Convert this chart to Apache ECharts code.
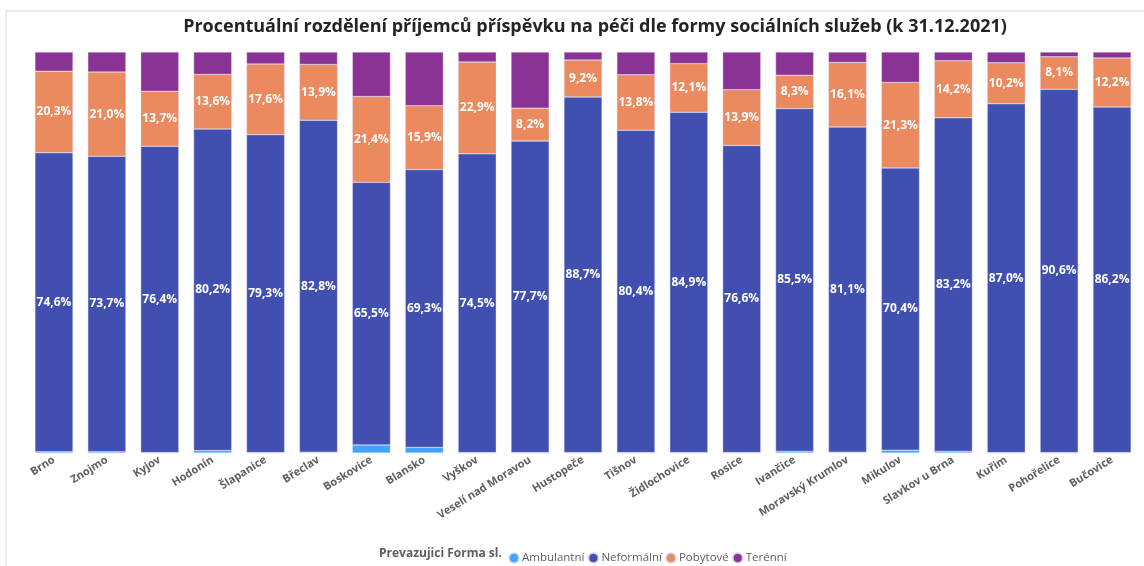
<!DOCTYPE html>
<html>
<head>
<meta charset="utf-8">
<script src="https://cdn.jsdelivr.net/npm/echarts@6/dist/echarts.min.js"></script>
<style>
  html, body { margin: 0; padding: 0; background: #fff; }
  #chart { width: 1144px; height: 566px; }
</style>
</head>
<body>
<div id="chart"></div>
<script>
// kategorie (obce s rozšířenou působností)
const categories = ['Brno', 'Znojmo', 'Kyjov', 'Hodonín', 'Šlapanice', 'Břeclav', 'Boskovice', 'Blansko',
  'Vyškov', 'Veselí nad Moravou', 'Hustopeče', 'Tišnov', 'Židlochovice', 'Rosice', 'Ivančice',
  'Moravský Krumlov', 'Mikulov', 'Slavkov u Brna', 'Kuřim', 'Pohořelice', 'Bučovice'];

// hodnoty v %
const ambulantni = [0.3, 0.3, 0.1, 0.6, 0.1, 0.2, 2.0, 1.4, 0.1, 0.1, 0.1, 0.1, 0.1, 0.1, 0.4, 0.2, 0.7, 0.4, 0.1, 0.1, 0.1];
const neformalni = [74.6, 73.7, 76.4, 80.2, 79.3, 82.8, 65.5, 69.3, 74.5, 77.7, 88.7, 80.4, 84.9, 76.6, 85.5, 81.1, 70.4, 83.2, 87.0, 90.6, 86.2];
const pobytove = [20.3, 21.0, 13.7, 13.6, 17.6, 13.9, 21.4, 15.9, 22.9, 8.2, 9.2, 13.8, 12.1, 13.9, 8.3, 16.1, 21.3, 14.2, 10.2, 8.1, 12.2];
const terenni = [4.8, 5.0, 9.8, 5.6, 3.0, 3.1, 11.1, 13.4, 2.5, 14.0, 2.0, 5.7, 2.9, 9.4, 5.8, 2.6, 7.6, 2.2, 2.7, 1.2, 1.5];

const chart = echarts.init(document.getElementById('chart'));

const fmt = (p) => p.value.toFixed(1).replace('.', ',') + '%';
const labelStyle = {
  show: true,
  formatter: fmt,
  color: '#fff',
  fontWeight: 'bold',
  fontSize: 12,
  fontFamily: 'Open Sans'
};

function serie(name, data, color, label) {
  return {
    name: name,
    type: 'bar',
    stack: 'total',
    data: data,
    barCategoryGap: '28%',
    itemStyle: { color: color, borderColor: 'rgba(220,220,245,0.8)', borderWidth: 0.5 },
    label: label ? labelStyle : { show: false }
  };
}

const option = {
  animation: false,
  title: {
    text: 'Procentuální rozdělení příjemců příspěvku na péči dle formy sociálních služeb (k 31.12.2021)',
    left: 590,
    textAlign: 'center',
    top: 13,
    textStyle: { fontFamily: 'Open Sans', fontSize: 18, fontWeight: 'bold', color: '#252423' }
  },
  graphic: [
    {
      type: 'polyline',
      shape: { points: [[6, 566], [6, 11], [1144, 11]] },
      style: { stroke: '#d9d9d9', fill: null, lineWidth: 1 }
    },
    {
      type: 'text',
      left: 379,
      top: 548,
      style: { text: 'Prevazujici Forma sl.', fontFamily: 'Open Sans', fontSize: 12, fontWeight: 'bold', fill: '#605e5c' }
    }
  ],
  legend: {
    left: 503,
    top: 547,
    itemWidth: 10,
    itemHeight: 10,
    itemGap: 3,
    icon: 'circle',
    textStyle: { fontFamily: 'Open Sans', fontSize: 11.5, color: '#605e5c', padding: [0, 0, 0, -2] },
    data: ['Ambulantní', 'Neformální', 'Pobytové', 'Terénní']
  },
  grid: { left: 27.5, right: 5.5, top: 52, bottom: 113 },
  xAxis: {
    type: 'category',
    data: categories,
    axisLine: { show: false },
    axisTick: { show: false },
    axisLabel: {
      interval: 0,
      rotate: 32,
      margin: 6,
      fontFamily: 'Open Sans',
      fontWeight: 'bold',
      fontSize: 11,
      color: '#605e5c'
    }
  },
  yAxis: {
    type: 'value',
    min: 0,
    max: 100,
    show: false,
    splitLine: { show: false }
  },
  series: [
    serie('Ambulantní', ambulantni, '#41a4ff', false),
    serie('Neformální', neformalni, '#4150b0', true),
    serie('Pobytové', pobytove, '#eb895f', true),
    serie('Terénní', terenni, '#8a3394', false)
  ]
};

chart.setOption(option);
</script>
</body>
</html>
